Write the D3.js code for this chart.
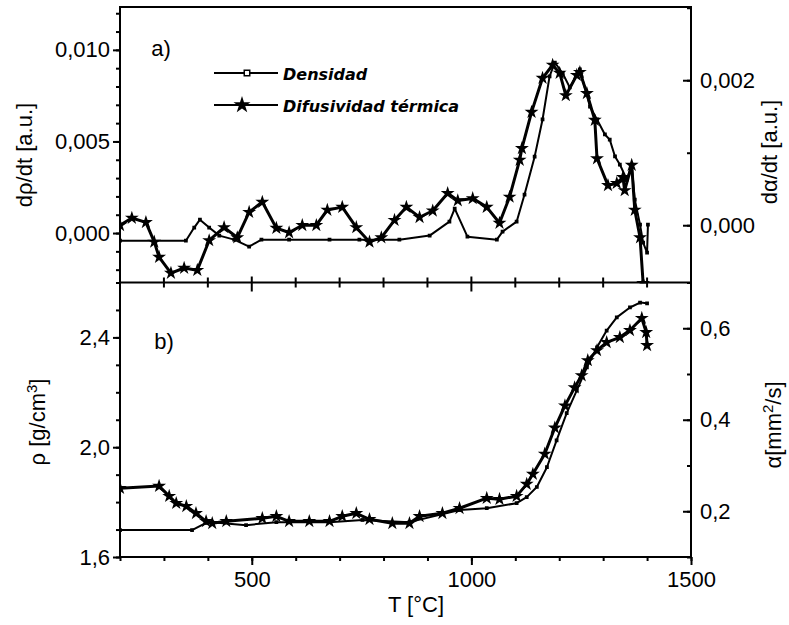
<!DOCTYPE html>
<html>
<head>
<meta charset="utf-8">
<script src="https://cdn.jsdelivr.net/npm/d3@7"></script>
<style>
  html, body { margin: 0; padding: 0; background: #fff; }
  svg { display: block; }
  .tick text { font-family: "Liberation Sans", Arial, sans-serif; font-size: 22px; fill: #000; }
  .title { font-family: "Liberation Sans", Arial, sans-serif; font-size: 22px; fill: #000; }
  .legend text { font-family: "DejaVu Sans", Verdana, sans-serif; font-size: 16px; font-weight: bold; font-style: italic; }
</style>
</head>
<body>
<svg id="chart" width="789" height="625"></svg>
<script>
// panel a) derivatives
const densTopT = [200, 350, 369, 382, 403, 426, 460, 494, 522, 585, 677, 745, 836, 905, 950, 962, 991, 1058, 1071, 1103, 1121, 1144, 1162, 1178, 1190, 1208, 1224, 1247, 1270, 1286, 1304, 1315, 1327, 1338, 1354, 1365, 1372, 1384, 1391, 1400, 1402];
const densTopV = [-0.00042, -0.00042, 0.0003, 0.00073, 0.0003, -0.00014, -0.00036, -0.00074, -0.00036, -0.00036, -0.00036, -0.00036, -0.00036, -0.00014, 0.00062, 0.00133, -0.0002, -0.00036, 0.00008, 0.00062, 0.0021, 0.00417, 0.0062, 0.00855, 0.00931, 0.00871, 0.00795, 0.00893, 0.0069, 0.0062, 0.00538, 0.0051, 0.00418, 0.00374, 0.00292, 0.00374, 0.00183, 0.00046, -0.00052, -0.00107, 0.00046];

const difTopT = [200, 227, 259, 278, 289, 316, 346, 376, 403, 437, 467, 494, 524, 556, 585, 615, 647, 672, 706, 738, 768, 795, 825, 852, 882, 912, 946, 969, 1003, 1035, 1064, 1087, 1110, 1115, 1137, 1162, 1185, 1201, 1215, 1240, 1247, 1263, 1281, 1286, 1311, 1331, 1345, 1349, 1365, 1372, 1384, 1391];
const difTopV = [0, 0.0001, 0.00004, -0.00023, -0.00044, -0.00066, -0.00059, -0.00062, -0.00021, -0.00003, -0.00017, 0.00018, 0.00032, -0.00004, -0.0001, 0, 0, 0.00021, 0.00025, -0.00003, -0.00023, -0.00017, 0.00007, 0.00025, 0.00011, 0.0002, 0.00044, 0.00034, 0.00037, 0.00025, 0.00003, 0.00039, 0.0009, 0.00106, 0.00156, 0.00203, 0.00221, 0.0021, 0.00179, 0.00207, 0.00211, 0.00182, 0.00145, 0.00092, 0.00055, 0.00058, 0.00066, 0.00048, 0.00083, 0.00021, -0.00017, -0.0008];

// panel b) density and diffusivity
const rhoT = [200, 364, 396, 410, 487, 556, 677, 752, 859, 973, 1035, 1103, 1126, 1149, 1172, 1194, 1217, 1240, 1263, 1286, 1308, 1331, 1361, 1384, 1400];
const rhoV = [1.698, 1.698, 1.724, 1.727, 1.716, 1.727, 1.727, 1.735, 1.727, 1.771, 1.778, 1.796, 1.818, 1.855, 1.927, 2.025, 2.124, 2.207, 2.291, 2.364, 2.425, 2.473, 2.509, 2.527, 2.524];

const alphaT = [200, 289, 312, 328, 351, 373, 396, 410, 442, 524, 556, 585, 631, 677, 706, 738, 768, 820, 859, 882, 934, 973, 1035, 1064, 1103, 1126, 1140, 1167, 1190, 1213, 1235, 1251, 1265, 1286, 1308, 1338, 1361, 1388, 1398, 1400];
const alphaV = [0.2505, 0.255, 0.233, 0.2176, 0.211, 0.1956, 0.178, 0.1736, 0.178, 0.1846, 0.189, 0.178, 0.178, 0.178, 0.189, 0.1956, 0.1824, 0.1736, 0.1736, 0.189, 0.1956, 0.2066, 0.2286, 0.2264, 0.233, 0.2593, 0.2813, 0.3253, 0.3824, 0.4308, 0.4703, 0.4967, 0.5297, 0.5516, 0.5692, 0.5802, 0.5956, 0.622, 0.5912, 0.5626];

// ticks
const xTicks = [500, 1000, 1500];
const topLeftTicks = [0, 0.005, 0.010];
const topRightTicks = [0, 0.002];
const botLeftTicks = [1.6, 2.0, 2.4];
const botRightTicks = [0.2, 0.4, 0.6];
const legendLabels = ['Densidad', 'Difusividad térmica'];

const L = 120, R = 691, T0 = 7, MID = 282.5, B = 557;

const svg = d3.select('#chart');
const comma = d3.formatLocale({decimal: ',', thousands: '.', grouping: [3], currency: ['', '']});

const x = d3.scaleLinear([200, 1500], [L, R]);
const yTopL = d3.scaleLinear([-0.0027, 0.01234], [MID, T0]);
const yTopR = d3.scaleLinear([-0.00079, 0.00301], [MID, T0]);
const yBotL = d3.scaleLinear([1.6, 2.6], [B, MID]);
const yBotR = d3.scaleLinear([0.1, 0.7], [B, MID]);

const zip = (a, b) => a.map((t, i) => [t, b[i]]);

// make(): returns a fresh d3 axis, so minor and major ticks can be drawn separately
function axis(make, pos, ticks, minor, fmt, major, small) {
  const g = svg.append('g').attr('transform', pos);
  g.call(make().tickValues(minor).tickSize(small).tickFormat(''));
  const m = svg.append('g').attr('transform', pos);
  m.call(make().tickValues(ticks).tickSize(major).tickPadding(3).tickFormat(fmt));
  [g, m].forEach(s => {
    s.select('.domain').remove();
    s.selectAll('line').attr('stroke', '#000').attr('stroke-width', 2);
  });
  return m;
}

const range = (a, b, s) => d3.range(Math.round(a / s), Math.round(b / s) + 1).map(v => +(v * s).toFixed(6));

// left axes (outward)
axis(() => d3.axisLeft(yTopL), `translate(${L},0)`, topLeftTicks, range(-0.002, 0.012, 0.001), comma.format('.3f'), 7, 4);
axis(() => d3.axisLeft(yBotL), `translate(${L},0)`, botLeftTicks, range(1.6, 2.6, 0.1), comma.format('.1f'), 7, 4);

// right axes (inward ticks, labels outside)
const rt = axis(() => d3.axisLeft(yTopR), `translate(${R},0)`, topRightTicks, range(0, 0.003, 0.001), comma.format('.3f'), 8, 4);
rt.selectAll('text').attr('text-anchor', 'start').attr('x', 9);
const rb = axis(() => d3.axisLeft(yBotR), `translate(${R},0)`, botRightTicks, range(0.1, 0.7, 0.1), comma.format('.1f'), 8, 4);
rb.selectAll('text').attr('text-anchor', 'start').attr('x', 9);

// bottom x axis
axis(() => d3.axisBottom(x), `translate(0,${B})`, xTicks, range(200, 1500, 100), d3.format('d'), 8, 4)
  .selectAll('text').attr('dy', '0.85em');

// ticks on the shared middle line
svg.append('g').selectAll('line')
  .data(range(300, 1400, 100))
  .join('line')
  .attr('x1', d => x(d)).attr('x2', d => x(d))
  .attr('y1', d => xTicks.includes(d) ? MID - 6 : MID - 5)
  .attr('y2', d => xTicks.includes(d) ? MID + 9 : MID + 5)
  .attr('stroke', '#000').attr('stroke-width', 2);

// frame
svg.append('rect').attr('x', L).attr('y', T0).attr('width', R - L).attr('height', B - T0)
  .attr('fill', 'none').attr('stroke', '#000').attr('stroke-width', 2);
svg.append('line').attr('x1', L).attr('x2', R).attr('y1', MID).attr('y2', MID)
  .attr('stroke', '#000').attr('stroke-width', 2);

svg.append('clipPath').attr('id', 'clipTop').append('rect')
  .attr('x', L).attr('y', T0).attr('width', R - L).attr('height', MID - T0 + 1);
svg.append('clipPath').attr('id', 'clipBot').append('rect')
  .attr('x', L).attr('y', MID).attr('width', R - L).attr('height', B - MID);

const square = d3.symbol(d3.symbolSquare, 14);
const star = d3.symbol(d3.symbolStar, 60);

function series(data, ys, clip, sym, width) {
  const g = svg.append('g').attr('clip-path', `url(#${clip})`);
  const line = d3.line().x(d => x(d[0])).y(d => ys(d[1]));
  g.append('path').datum(data).attr('d', line)
    .attr('fill', 'none').attr('stroke', '#000').attr('stroke-width', width)
    .attr('stroke-linejoin', 'round');
  g.selectAll('.pt').data(data).join('path')
    .attr('transform', d => `translate(${x(d[0])},${ys(d[1])})`)
    .attr('d', sym).attr('fill', '#000');
}

series(zip(densTopT, densTopV), yTopL, 'clipTop', square, 2);
series(zip(difTopT, difTopV), yTopR, 'clipTop', star, 3);
series(zip(rhoT, rhoV), yBotL, 'clipBot', square, 2);
series(zip(alphaT, alphaV), yBotR, 'clipBot', star, 3);

// axis titles
function title(txt, tx, ty, rot) {
  svg.append('text').attr('class', 'title')
    .attr('transform', `translate(${tx},${ty}) rotate(${rot})`)
    .attr('text-anchor', 'middle').html(txt);
}
title('dρ/dt [a.u.]', 32, 155, -90);
title('ρ [g/cm<tspan dy="-8" font-size="15">3</tspan><tspan dy="8">]</tspan>', 45, 422, -90);
title('dα/dt [a.u.]', 777, 152, -90);
title('α[mm<tspan dy="-8" font-size="15">2</tspan><tspan dy="8">/s]</tspan>', 781, 425, -90);
title('T [°C]', 416, 612, 0);
title('a)', 161, 56, 0);
title('b)', 164, 349, 0);

// legend
const legend = svg.append('g').attr('class', 'legend');
[[73, 247], [105, 242]].forEach(([ly, mx], i) => {
  legend.append('line').attr('x1', 214).attr('x2', 278).attr('y1', ly).attr('y2', ly)
    .attr('stroke', '#000').attr('stroke-width', 2);
  legend.append('path').attr('transform', `translate(${mx},${ly})`)
    .attr('d', i ? d3.symbol(d3.symbolStar, 90) : d3.symbol(d3.symbolSquare, 30))
    .attr('fill', i ? '#000' : '#fff').attr('stroke', '#000').attr('stroke-width', i ? 0 : 1.5);
  legend.append('text').attr('x', 283).attr('y', ly + 7).text(legendLabels[i]);
});
</script>
</body>
</html>
